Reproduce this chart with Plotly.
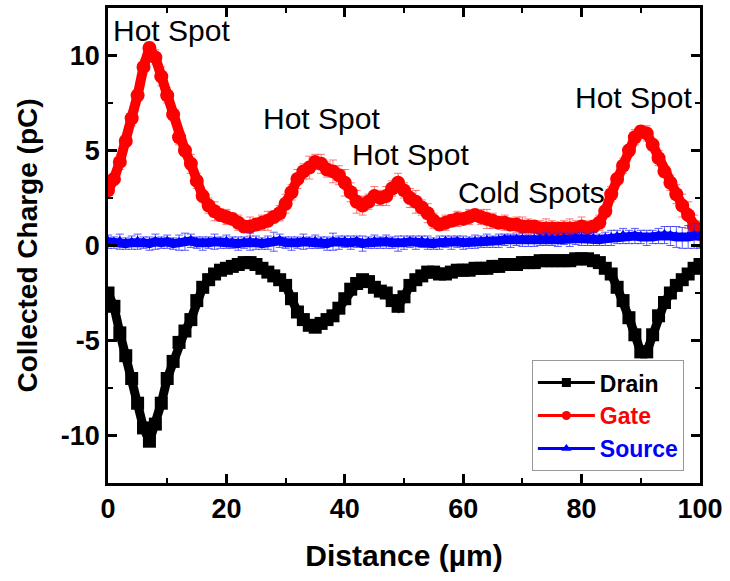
import plotly.graph_objects as go

distance = list(range(0, 101))

drain = [-2.5, -3.2, -4.6, -5.8, -7.0, -8.3, -9.6, -10.3, -9.4, -8.3,
         -7.0, -6.1, -5.1, -4.5, -3.9, -2.9, -2.2, -1.8, -1.5, -1.3,
         -1.2, -1.1, -1.0, -0.9, -0.9, -1.0, -1.2, -1.4, -1.6, -1.8,
         -2.1, -2.8, -3.5, -3.9, -4.2, -4.3, -4.1, -3.9, -3.7, -3.3,
         -2.8, -2.3, -2.0, -1.8, -1.9, -2.2, -2.4, -2.5, -2.9, -3.2,
         -2.7, -2.1, -1.8, -1.6, -1.4, -1.4, -1.5, -1.5, -1.4, -1.3,
         -1.3, -1.3, -1.2, -1.2, -1.2, -1.1, -1.1, -1.0, -1.0, -1.0,
         -0.9, -0.9, -0.9, -0.8, -0.8, -0.8, -0.8, -0.8, -0.8, -0.7,
         -0.7, -0.7, -0.8, -0.9, -1.2, -1.5, -2.2, -2.9, -3.8, -4.7,
         -5.6, -5.6, -4.7, -3.7, -3.0, -2.5, -2.1, -1.8, -1.5, -1.2,
         -1.0]

gate = [2.9, 3.5, 4.4, 5.5, 6.7, 7.9, 9.4, 10.4, 9.9, 8.9,
        7.9, 6.9, 5.7, 5.0, 4.3, 3.4, 2.6, 2.1, 1.8, 1.6,
        1.5, 1.4, 1.2, 1.0, 1.0, 1.1, 1.2, 1.3, 1.5, 1.7,
        2.2, 2.8, 3.5, 3.9, 4.1, 4.4, 4.3, 4.0, 3.9, 3.7,
        3.3, 2.8, 2.3, 2.1, 2.3, 2.6, 2.5, 2.6, 3.0, 3.3,
        2.9, 2.5, 2.3, 2.0, 1.7, 1.3, 1.1, 1.2, 1.3, 1.4,
        1.4, 1.5, 1.6, 1.5, 1.4, 1.3, 1.2, 1.2, 1.1, 1.1,
        1.0, 1.0, 1.0, 0.9, 0.9, 0.9, 0.9, 0.9, 0.9, 0.9,
        1.0, 0.9, 1.0, 1.2, 1.8, 2.7, 3.5, 4.2, 5.0, 5.7,
        6.0, 5.9, 5.3, 4.6, 3.9, 3.3, 2.7, 2.1, 1.6, 1.0,
        0.6]

source = [0.2, 0.15, 0.2, 0.1, 0.15, 0.2, 0.15, 0.1, 0.2, 0.15,
          0.2, 0.1, 0.15, 0.2, 0.25, 0.15, 0.1, 0.15, 0.2, 0.15,
          0.2, 0.15, 0.1, 0.15, 0.2, 0.15, 0.1, 0.15, 0.2, 0.25,
          0.15, 0.1, 0.15, 0.2, 0.15, 0.2, 0.15, 0.1, 0.2, 0.15,
          0.2, 0.15, 0.2, 0.1, 0.15, 0.2, 0.15, 0.2, 0.15, 0.1,
          0.15, 0.2, 0.15, 0.2, 0.15, 0.1, 0.15, 0.2, 0.15, 0.2,
          0.15, 0.15, 0.2, 0.2, 0.25, 0.2, 0.25, 0.3, 0.25, 0.3,
          0.3, 0.25, 0.3, 0.3, 0.35, 0.3, 0.3, 0.35, 0.3, 0.35,
          0.35, 0.3, 0.35, 0.3, 0.35, 0.4, 0.45, 0.5, 0.45, 0.5,
          0.45, 0.4, 0.45, 0.5, 0.55, 0.5, 0.45, 0.4, 0.45, 0.5,
          0.5]

drain_err = [0.2, 0.2, 0.25, 0.2, 0.2, 0.25, 0.2, 0.2, 0.2, 0.25,
             0.2, 0.2, 0.2, 0.25, 0.2, 0.2, 0.2, 0.3, 0.2, 0.2,
             0.2, 0.2, 0.25, 0.2, 0.3, 0.2, 0.2, 0.2, 0.2, 0.2,
             0.2, 0.2, 0.25, 0.2, 0.2, 0.2, 0.2, 0.2, 0.2, 0.2,
             0.2, 0.2, 0.2, 0.25, 0.2, 0.2, 0.2, 0.2, 0.2, 0.2,
             0.2, 0.2, 0.2, 0.2, 0.2, 0.2, 0.2, 0.2, 0.2, 0.2,
             0.2, 0.2, 0.2, 0.2, 0.2, 0.2, 0.2, 0.2, 0.2, 0.2,
             0.2, 0.2, 0.2, 0.2, 0.2, 0.2, 0.2, 0.2, 0.2, 0.2,
             0.2, 0.2, 0.2, 0.2, 0.2, 0.2, 0.2, 0.2, 0.2, 0.2,
             0.2, 0.2, 0.2, 0.2, 0.2, 0.2, 0.2, 0.2, 0.2, 0.2,
             0.2]

gate_err = [0.4, 0.3, 0.4, 0.3, 0.4, 0.3, 0.4, 0.3, 0.4, 0.5,
            0.4, 0.3, 0.4, 0.3, 0.5, 0.4, 0.3, 0.4, 0.5, 0.3,
            0.4, 0.3, 0.4, 0.3, 0.5, 0.3, 0.4, 0.5, 0.3, 0.4,
            0.5, 0.4, 0.5, 0.4, 0.6, 0.4, 0.5, 0.4, 0.6, 0.5,
            0.7, 0.5, 0.6, 0.5, 0.4, 0.5, 0.4, 0.5, 0.4, 0.5,
            0.4, 0.5, 0.6, 0.4, 0.5, 0.4, 0.3, 0.4, 0.3, 0.4,
            0.3, 0.4, 0.3, 0.4, 0.5, 0.4, 0.3, 0.4, 0.3, 0.4,
            0.5, 0.4, 0.3, 0.4, 0.5, 0.4, 0.3, 0.4, 0.5, 0.4,
            0.5, 0.4, 0.3, 0.4, 0.3, 0.4, 0.3, 0.4, 0.3, 0.4,
            0.3, 0.4, 0.3, 0.4, 0.3, 0.4, 0.5, 0.6, 0.7, 0.6,
            0.7]

source_err = [0.35, 0.3, 0.4, 0.3, 0.35, 0.4, 0.3, 0.35, 0.4, 0.3,
              0.35, 0.3, 0.4, 0.45, 0.35, 0.3, 0.35, 0.3, 0.4, 0.3,
              0.35, 0.3, 0.35, 0.3, 0.45, 0.35, 0.3, 0.35, 0.5, 0.35,
              0.3, 0.35, 0.3, 0.4, 0.3, 0.35, 0.3, 0.35, 0.45, 0.35,
              0.3, 0.35, 0.3, 0.4, 0.3, 0.35, 0.3, 0.35, 0.3, 0.4,
              0.35, 0.3, 0.35, 0.3, 0.35, 0.3, 0.35, 0.3, 0.35, 0.3,
              0.35, 0.3, 0.35, 0.3, 0.35, 0.3, 0.35, 0.3, 0.35, 0.3,
              0.35, 0.3, 0.35, 0.3, 0.35, 0.3, 0.35, 0.3, 0.35, 0.3,
              0.35, 0.3, 0.35, 0.3, 0.35, 0.4, 0.35, 0.4, 0.35, 0.4,
              0.35, 0.4, 0.35, 0.4, 0.45, 0.5, 0.55, 0.55, 0.6, 0.65,
              0.65]

series_names = ["Drain", "Gate", "Source"]
series_colors = ["#000000", "#ff0000", "#0000ff"]
series_symbols = ["square", "circle", "triangle-up"]
err_colors = ["rgba(60,60,60,0.8)", "rgba(255,60,60,0.7)", "rgba(40,40,255,0.75)"]
marker_sizes = [13, 14, 12]
line_widths = [9, 10, 9]

y_tickvals = [-10, -5, 0, 5, 10]
y_ticktext = ["-10", "-5", "0", "5", "10"]
x_tickvals = [0, 20, 40, 60, 80, 100]

annot_text = ["Hot Spot", "Hot Spot", "Hot Spot", "Cold Spots", "Hot Spot"]
annot_x = [10.7, 36.0, 51.1, 71.6, 88.8]
annot_y = [11.3, 6.7, 4.8, 2.8, 7.8]

FONT = "Liberation Sans, Arial, sans-serif"

fig = go.Figure()
for name, yv, ev, col, sym, ecol, ms, lw in zip(
        series_names, [drain, gate, source], [drain_err, gate_err, source_err],
        series_colors, series_symbols, err_colors, marker_sizes, line_widths):
    fig.add_trace(go.Scatter(
        x=distance, y=yv, mode="lines+markers", showlegend=False,
        line=dict(color=col, width=lw),
        marker=dict(symbol=sym, size=ms, color=col, line=dict(width=0)),
        error_y=dict(type="data", array=ev, visible=True, color=ecol,
                     thickness=1, width=4),
    ))

# legend entries
for name, col, sym in zip(series_names, series_colors, series_symbols):
    fig.add_trace(go.Scatter(
        x=[None], y=[None], mode="lines+markers",
        name=f"<b><span style='color:{col}'>{name}</span></b>",
        line=dict(color=col, width=3),
        marker=dict(symbol=sym, size=9, color=col),
    ))

for t, ax, ay in zip(annot_text, annot_x, annot_y):
    fig.add_annotation(x=ax, y=ay, text=t, showarrow=False,
                       xanchor="center", yanchor="middle",
                       font=dict(family=FONT, size=30, color="black"))

axis_common = dict(
    showline=True, linecolor="black", linewidth=2.5, mirror="ticks",
    ticks="inside", ticklen=9, tickwidth=2.5, tickcolor="black",
    showgrid=False, zeroline=False,
    tickfont=dict(family=FONT, size=27, color="black", weight="bold"),
)

fig.update_xaxes(
    range=[0, 100], tickvals=x_tickvals,
    minor=dict(ticks="inside", dtick=10, ticklen=5, tickwidth=2, tickcolor="black", showgrid=False),
    title=dict(text="Distance (\u00b5m)", font=dict(family=FONT, size=30, color="black", weight="bold"),
               standoff=22),
    **axis_common,
)
fig.update_yaxes(
    range=[-12.5, 12.5], tickvals=y_tickvals, ticktext=y_ticktext,
    minor=dict(ticks="inside", dtick=2.5, ticklen=5, tickwidth=2, tickcolor="black", showgrid=False),
    title=dict(text="Collected Charge (pC)", font=dict(family=FONT, size=28, color="black", weight="bold"),
               standoff=16),
    **axis_common,
)

fig.update_layout(
    width=730, height=581,
    margin=dict(l=108, r=30, t=8, b=98, autoexpand=False),
    paper_bgcolor="white", plot_bgcolor="white",
    showlegend=True,
    legend=dict(x=0.716, y=0.025, xanchor="left", yanchor="bottom",
                bgcolor="white", bordercolor="#999999", borderwidth=1,
                font=dict(family=FONT, size=23), itemwidth=57,
                tracegroupgap=0),
)

fig.write_html("out.html")
